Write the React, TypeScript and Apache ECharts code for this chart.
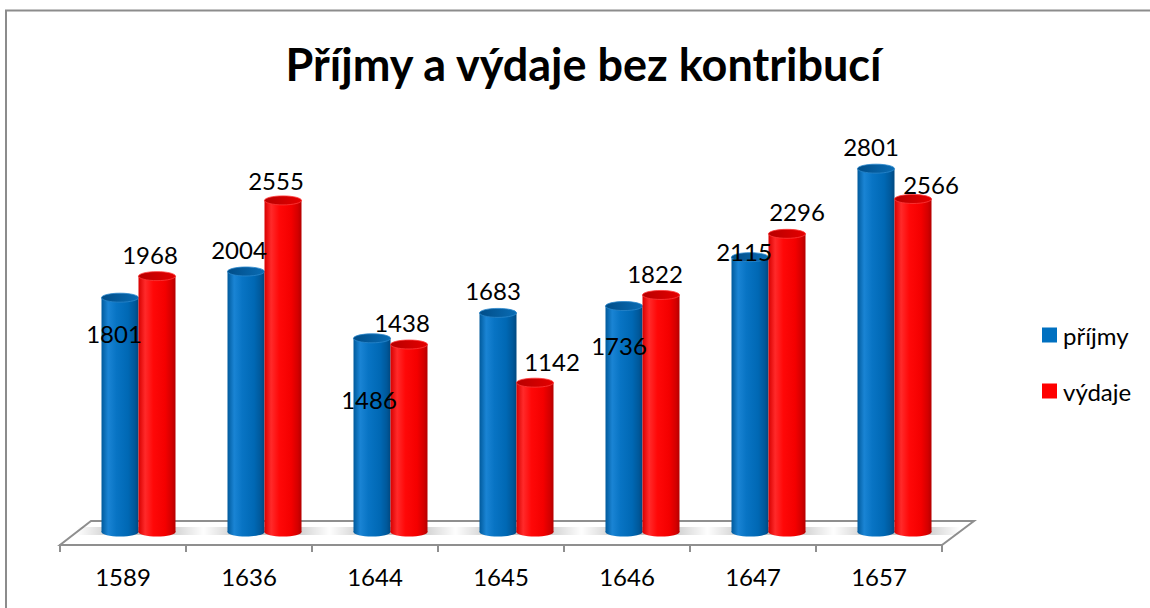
import React, { useEffect, useRef } from "react";
import * as echarts from "echarts";

// ---- data ----
const categories = ["1589", "1636", "1644", "1645", "1646", "1647", "1657"];
const prijmy = [1801, 2004, 1486, 1683, 1736, 2115, 2801];
const vydaje = [1968, 2555, 1438, 1142, 1822, 2296, 2566];
const seriesNames = ["příjmy", "výdaje"];
const titleText = "Příjmy a výdaje bez kontribucí";

// ---- layout (label nudges as placed in the original) ----
const prijmyLabelShift = [[-6, 36], [-7, -22], [-3, 61], [-5, -22], [-5, 39], [-6, -6], [-5, -22]];
const vydajeLabelShift = [[-7, -22], [-7, -20], [-7, -22], [17, -21], [-6, -21], [10, -22], [18, -14]];

const FONT = "Lato, 'Open Sans', sans-serif";
const BW = 37; // cylinder width
const RY = 4.5; // ellipse half-height
const DX = 31; // floor depth x
const FRONT = 15; // floor front edge below zero line
const BACK = 9; // floor back edge above zero line
const TICK = 7;
const EDGE = "#8f8f8f";

const blueStops = [
  { offset: 0, color: "#005a9c" },
  { offset: 0.18, color: "#1a84d4" },
  { offset: 0.4, color: "#0874c4" },
  { offset: 0.72, color: "#0068b4" },
  { offset: 0.9, color: "#00589a" },
  { offset: 1, color: "#004880" },
];
const redStops = [
  { offset: 0, color: "#d80000" },
  { offset: 0.18, color: "#ff2a2a" },
  { offset: 0.4, color: "#ff0808" },
  { offset: 0.72, color: "#f40000" },
  { offset: 0.9, color: "#d40000" },
  { offset: 1, color: "#b40000" },
];
const blueTop = [
  { offset: 0, color: "#004d88" },
  { offset: 1, color: "#0a6cb4" },
];
const redTop = [
  { offset: 0, color: "#b80000" },
  { offset: 1, color: "#e40000" },
];

function cylinder(isBlue: boolean, shifts: number[][]) {
  return (params: any, api: any) => {
    const i = api.value(0);
    const v = api.value(1);
    const top = api.coord([i, v]);
    const zero = api.coord([i, 0]);
    const cx = top[0] + DX / 2 + (isBlue ? -BW / 2 : BW / 2);
    const topY = top[1];
    const baseY = zero[1] + 2;
    const body = new echarts.graphic.LinearGradient(0, 0, 1, 0, isBlue ? blueStops : redStops);
    const cap = new echarts.graphic.LinearGradient(0, 0, 1, 0, isBlue ? blueTop : redTop);
    const sh = shifts[params.dataIndex] || [0, -22];
    return {
      type: "group",
      children: [
        { type: "rect", shape: { x: cx - BW / 2, y: topY, width: BW, height: baseY - topY }, style: { fill: body } },
        { type: "ellipse", shape: { cx, cy: baseY, rx: BW / 2, ry: RY }, style: { fill: body } },
        {
          type: "ellipse",
          shape: { cx, cy: topY, rx: BW / 2, ry: RY },
          style: { fill: cap, stroke: isBlue ? "#2a86cc" : "#ff3a3a", lineWidth: 0.8 },
        },
        {
          type: "text",
          z2: 100,
          style: {
            text: String(v),
            x: cx + sh[0],
            y: topY + sh[1],
            align: "center",
            verticalAlign: "middle",
            textAlign: "center",
            textVerticalAlign: "middle",
            fontSize: 24,
            fontFamily: FONT,
            fill: "#000",
          },
        },
      ],
    };
  };
}

function floor(params: any, api: any) {
  const i = api.value(0);
  const cs = params.coordSys;
  const zero = api.coord([i, 0]);
  const band = api.size([1, 0])[0];
  const zy = zero[1];
  const g = zero[0] + DX / 2;
  const children: any[] = [];
  const fy = zy + FRONT;
  if (params.dataIndex === 0) {
    const l = cs.x;
    const r = cs.x + cs.width;
    children.push({
      type: "polygon",
      shape: {
        points: [
          [l, fy],
          [r, fy],
          [r + DX + 1, zy - BACK],
          [l + DX, zy - BACK],
        ],
      },
      style: { fill: "#ffffff", stroke: EDGE, lineWidth: 2 },
    });
  }
  // tick at the left boundary of this category (and the right one for the last)
  const lx = Math.round(zero[0] - band / 2);
  children.push({
    type: "line",
    shape: { x1: lx, y1: fy, x2: lx, y2: fy + TICK },
    style: { stroke: EDGE, lineWidth: 2 },
  });
  if (params.dataIndex === categories.length - 1) {
    const rx = Math.round(zero[0] + band / 2);
    children.push({
      type: "line",
      shape: { x1: rx, y1: fy, x2: rx, y2: fy + TICK },
      style: { stroke: EDGE, lineWidth: 2 },
    });
  }
  children.push({
    type: "rect",
    shape: { x: g - 62, y: zy - 3, width: 128, height: 8 },
    style: {
      fill: new echarts.graphic.LinearGradient(0, 0, 1, 0, [
        { offset: 0, color: "rgba(0,0,0,0)" },
        { offset: 0.3, color: "rgba(0,0,0,0.22)" },
        { offset: 0.7, color: "rgba(0,0,0,0.22)" },
        { offset: 1, color: "rgba(0,0,0,0)" },
      ]),
    },
  });
  return { type: "group", children };
}

export default function App() {
  const ref = useRef<HTMLDivElement>(null);
  useEffect(() => {
    if (!ref.current) return;
    const chart = echarts.init(ref.current, undefined, { renderer: "svg" });
    chart.setOption({
      animation: false,
      backgroundColor: "#fff",
      grid: { left: 60, right: 208, top: 143, bottom: 78 },
      xAxis: {
        type: "category",
        data: categories,
        offset: FRONT,
        axisLine: { onZero: false, lineStyle: { color: EDGE, width: 2 } },
        axisTick: { show: false },
        axisLabel: { fontSize: 24, fontFamily: FONT, color: "#000", margin: 19 },
        splitLine: { show: false },
      },
      yAxis: { type: "value", min: 0, max: 3000, show: false },
      legend: {
        data: seriesNames,
        orient: "vertical",
        left: 1042,
        top: 323,
        padding: 0,
        itemWidth: 15,
        itemHeight: 15,
        itemGap: 32,
        icon: "rect",
        textStyle: { fontSize: 24, fontFamily: FONT, color: "#000", padding: [0, 0, 0, 1] },
      },
      graphic: [
        {
          type: "rect",
          silent: true,
          z: -10,
          shape: { x: 6, y: 10.5, width: 1200, height: 700 },
          style: { fill: "none", stroke: "#8c8c8c", lineWidth: 2 },
        },
        {
          type: "text",
          x: 583.5,
          y: 64,
          style: {
            text: titleText,
            align: "center",
            verticalAlign: "middle",
            textAlign: "center",
            textVerticalAlign: "middle",
            fontSize: 45,
            fontWeight: "bold",
            fontFamily: FONT,
            fill: "#000",
          },
        },
      ],
      series: [
        {
          type: "custom",
          silent: true,
          renderItem: floor,
          data: categories.map((_, i) => [i, 0]),
          encode: { x: 0, y: 1 },
          z: 1,
        },
        {
          type: "custom",
          name: seriesNames[0],
          renderItem: cylinder(true, prijmyLabelShift),
          data: prijmy.map((v, i) => [i, v]),
          encode: { x: 0, y: 1 },
          itemStyle: { color: "#0070C0" },
          z: 2,
        },
        {
          type: "custom",
          name: seriesNames[1],
          renderItem: cylinder(false, vydajeLabelShift),
          data: vydaje.map((v, i) => [i, v]),
          encode: { x: 0, y: 1 },
          itemStyle: { color: "#FF0000" },
          z: 2,
        },
      ],
    });
    return () => chart.dispose();
  }, []);
  return (
    <div
      ref={ref}
      style={{ position: "absolute", left: 0, top: 0, width: 1150, height: 608, background: "#fff" }}
    />
  );
}
